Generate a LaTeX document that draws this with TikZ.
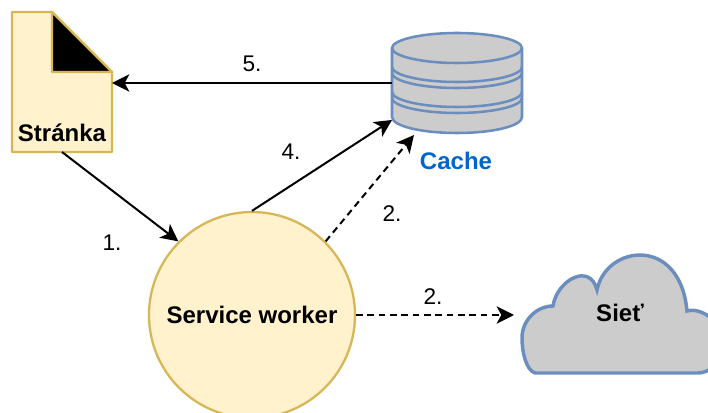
\documentclass[tikz,border=0pt]{standalone}
\usepackage{fontspec}
\setmainfont{Liberation Sans}
\usepackage{xcolor}
\usetikzlibrary{arrows.meta,calc,positioning}
\definecolor{paleyellow}{HTML}{FFF2CC}
\definecolor{darkyellow}{HTML}{D6B656}
\definecolor{steelblue}{HTML}{6C8EBF}
\definecolor{lightgray}{HTML}{CCCCCC}
\definecolor{cacheblue}{HTML}{0066CC}
\tikzset{%
	yellowshape/.style = {draw=darkyellow, fill=paleyellow, line width=1.7pt, line join=round},
	grayshape/.style   = {draw=steelblue, fill=lightgray, line width=1.9pt},
	arrow/.style       = {line width=1.5pt, -{Stealth[length=13pt,width=13pt,inset=3.5pt]}},
	dasharrow/.style   = {arrow, dash pattern=on 5pt off 3.5pt},
	numlabel/.style    = {font=\fontsize{17}{18}\selectfont, inner sep=0pt},
	boldlabel/.style   = {font=\fontsize{18}{20}\selectfont\bfseries, inner sep=0pt},
}
\begin{document}
\begin{tikzpicture}[x=0.75pt,y=-0.75pt]
	\useasboundingbox (0,0) rectangle (708,413);

	% page
	\draw[yellowshape] (12,12) -- (52,12) -- (112,72) -- (112,152) -- (12,152) -- cycle;
	\draw[yellowshape,fill=black] (52,12) -- (112,72) -- (52,72) -- cycle;
	\node[boldlabel] (page) at (62,133) {Stránka};
	\coordinate (pagein) at (112,83);
	\coordinate (pageout) at (62,152);

	% cache
	\draw[grayshape] (392,48) .. controls (392,40) and (421,33) .. (457,33) .. controls (493,33) and (522,40) .. (522,48) -- (522,117) .. controls (522,126) and (493,133) .. (457,133) .. controls (421,133) and (392,126) .. (392,117) -- cycle;
	\foreach \ytop in {48,67,73,92,98} \draw[grayshape,fill=none] (392,\ytop) .. controls (392,\ytop+8) and (421,\ytop+15) .. (457,\ytop+15) .. controls (493,\ytop+15) and (522,\ytop+8) .. (522,\ytop);
	\node[boldlabel,text=cacheblue] (cache) at (456,161) {Cache};
	\coordinate (cachein) at (392,83);
	\coordinate (cachefour) at (392,120);
	\coordinate (cachetwo) at (414,135);

	% worker
	\node[yellowshape,circle,minimum size=154.5pt,inner sep=0pt,boldlabel] (worker) at (252,315) {Service worker};

	% cloud
	\draw[grayshape,line width=2.6pt] (535,373) .. controls (526,370) and (522,352) .. (522,338)
		.. controls (522,320) and (537,306) .. (553,306)
		.. controls (557,280) and (590,262) .. (597,290)
		.. controls (606,245) and (680,235) .. (687,311)
		.. controls (702,307) and (722,322) .. (722,342)
		.. controls (722,362) and (710,373) .. (698,373) -- cycle;
	\node[boldlabel] (net) at (620,313) {Sieť};
	\coordinate (netin) at (514,315);

	% connectors
	\draw[arrow] (cachein) -- (pagein);
	\draw[arrow] (pageout) -- (worker.135);
	\draw[arrow] (worker.90) -- (cachefour);
	\draw[dasharrow] (worker.45) -- (cachetwo);
	\draw[dasharrow] (worker.0) -- (netin);

	\node[numlabel] (one) at (112,243) {1.};
	\node[numlabel] (twoup) at (392,214) {2.};
	\node[numlabel] (twonet) at (433,297) {2.};
	\node[numlabel] (four) at (291,152) {4.};
	\node[numlabel] (five) at (252,64) {5.};
\end{tikzpicture}
\end{document}
